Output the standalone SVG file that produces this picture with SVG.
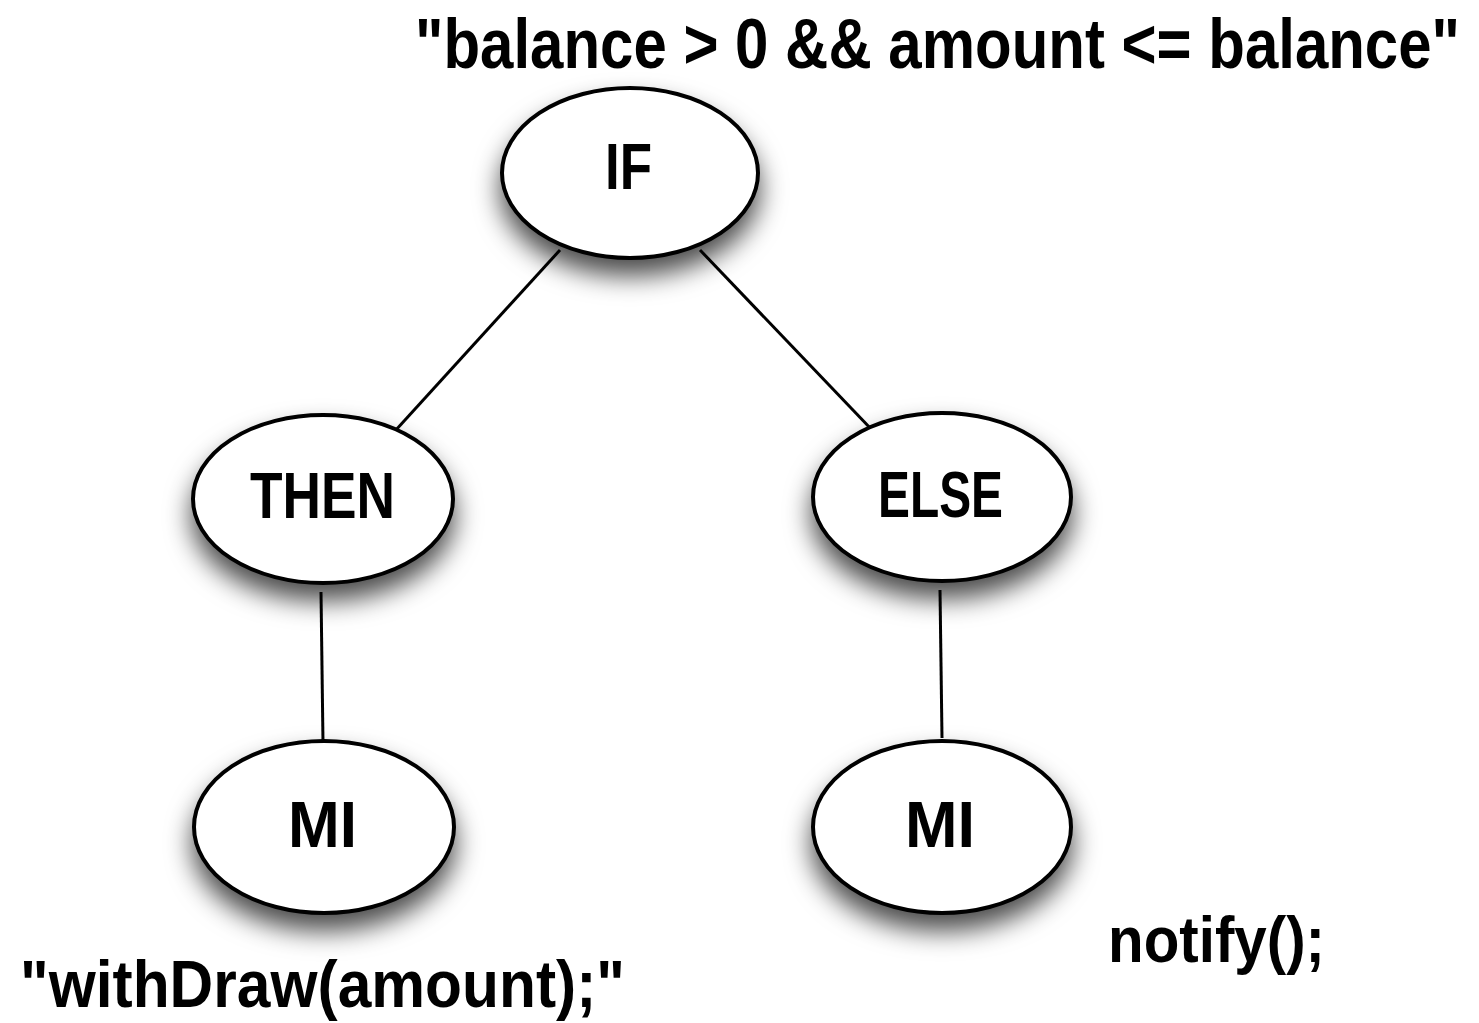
<svg xmlns="http://www.w3.org/2000/svg" width="1479" height="1023" viewBox="0 0 1479 1023">
  <defs>
    <filter id="shadow" x="-40%" y="-40%" width="180%" height="200%">
      <feDropShadow dx="0" dy="16" stdDeviation="13" flood-color="#000" flood-opacity="0.7"/>
    </filter>
  </defs>
  <style>
    .node ellipse { fill: #fff; stroke: #000; stroke-width: 4; filter: url(#shadow); }
    .edge { stroke: #000; stroke-width: 3; fill: none; }
    text { font-family: "Liberation Sans", "DejaVu Sans Condensed", sans-serif; font-weight: bold; fill: #000; }
    .lbl { font-size: 65px; }
  </style>
  <rect width="1479" height="1023" fill="#fff"/>

  <!-- tree edges -->
  <g id="connectors">
    <line class="edge" x1="560" y1="250" x2="395" y2="431"/>
    <line class="edge" x1="700" y1="250" x2="873" y2="431"/>
    <line class="edge" x1="321" y1="592" x2="323" y2="743"/>
    <line class="edge" x1="940" y1="590" x2="942" y2="738"/>
  </g>

  <g id="node-if" class="node">
    <ellipse cx="630" cy="173" rx="128" ry="85"/>
    <text class="lbl" x="605" y="189" textLength="47" lengthAdjust="spacingAndGlyphs">IF</text>
  </g>
  <g id="node-then" class="node">
    <ellipse cx="323" cy="499" rx="130" ry="84"/>
    <text class="lbl" x="250" y="518" textLength="145" lengthAdjust="spacingAndGlyphs">THEN</text>
  </g>
  <g id="node-else" class="node">
    <ellipse cx="942" cy="497" rx="129" ry="84"/>
    <text class="lbl" x="878" y="517" textLength="125" lengthAdjust="spacingAndGlyphs">ELSE</text>
  </g>
  <g id="node-mi-left" class="node">
    <ellipse cx="324" cy="827" rx="130" ry="86"/>
    <text class="lbl" x="288" y="847" textLength="69" lengthAdjust="spacingAndGlyphs">MI</text>
  </g>
  <g id="node-mi-right" class="node">
    <ellipse cx="942" cy="827" rx="129" ry="86"/>
    <text class="lbl" x="905" y="847" textLength="70" lengthAdjust="spacingAndGlyphs">MI</text>
  </g>

  <!-- annotations -->
  <text x="415" y="68" font-size="70" textLength="1045" lengthAdjust="spacingAndGlyphs">"balance &gt; 0 &amp;&amp; amount &lt;= balance"</text>
  <text x="20" y="1007" font-size="66" textLength="605" lengthAdjust="spacingAndGlyphs">"withDraw(amount);"</text>
  <text x="1108" y="962" font-size="64" textLength="217" lengthAdjust="spacingAndGlyphs">notify();</text>
</svg>
